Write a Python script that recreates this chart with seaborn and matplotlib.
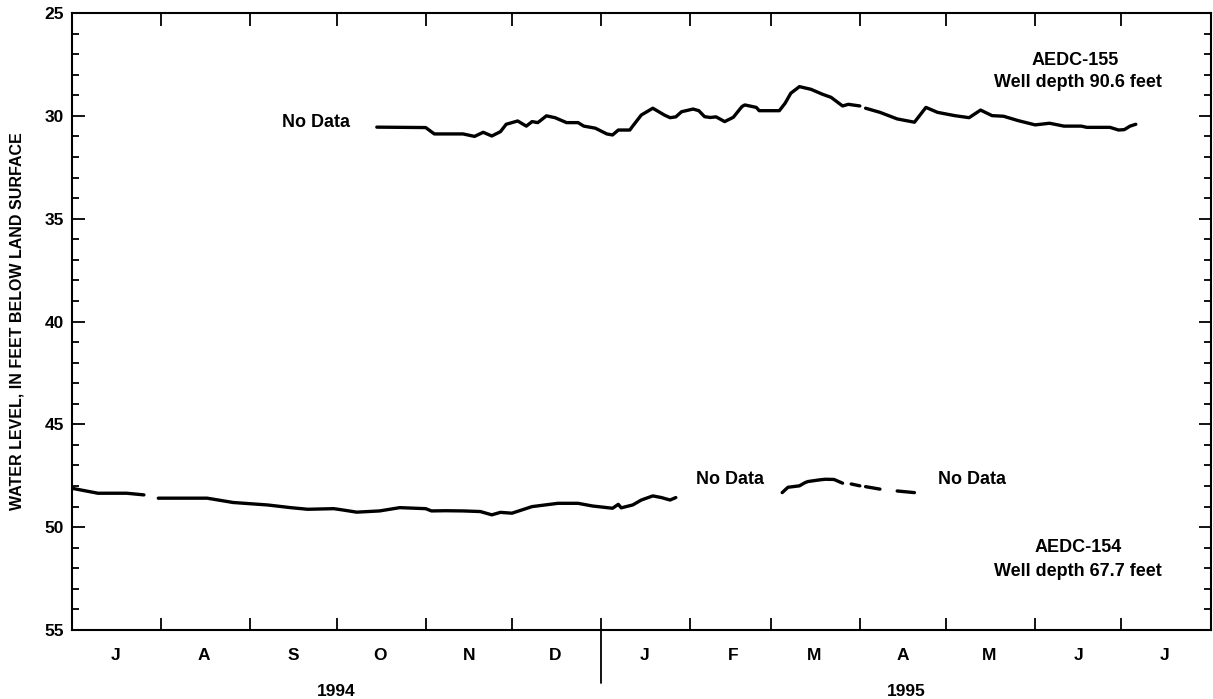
import numpy as np
import pandas as pd
import seaborn as sns
import matplotlib.pyplot as plt
import matplotlib.dates as mdates
import matplotlib.transforms as mtransforms
from matplotlib.ticker import MultipleLocator, FuncFormatter

START = pd.Timestamp('1994-07-01')
END = pd.Timestamp('1995-08-01')

# AEDC-155: days since 1 Jul 1994, water level in feet below land surface
aedc155_days_a = [106, 123, 126, 136, 140, 143, 146, 149, 151, 155, 158, 160, 162, 165, 168,
                  172, 176, 178, 182, 186, 188, 190, 194, 195, 198, 202, 206, 208, 210, 212,
                  216, 218, 220, 222, 224, 227, 230, 233, 234, 238, 239, 246, 248, 250, 253,
                  257, 261, 264, 268, 270, 274]
aedc155_level_a = [30.55, 30.57, 30.88, 30.88, 31.0, 30.8, 30.98, 30.77, 30.41, 30.25, 30.5, 30.28,
                   30.33, 30.0, 30.09, 30.33, 30.33, 30.5, 30.6, 30.88, 30.93, 30.69, 30.69, 30.5,
                   29.96, 29.63, 29.96, 30.09, 30.05, 29.8, 29.67, 29.75, 30.04, 30.08, 30.05,
                   30.28, 30.07, 29.55, 29.47, 29.59, 29.75, 29.75, 29.39, 28.9, 28.58, 28.71,
                   28.95, 29.1, 29.52, 29.44, 29.52]
aedc155_days_b = [276, 281, 287, 293, 297, 301, 307, 312, 316, 320, 324, 329, 335, 340, 345,
                  351, 353, 361, 364, 366, 368, 370]
aedc155_level_b = [29.63, 29.83, 30.15, 30.31, 29.59, 29.83, 29.99, 30.09, 29.72, 29.99, 30.02,
                   30.23, 30.44, 30.36, 30.5, 30.5, 30.56, 30.56, 30.69, 30.67, 30.5, 30.41]

# AEDC-154
aedc154_days_a = [0, 9, 19, 25]
aedc154_level_a = [48.11, 48.35, 48.35, 48.43]
aedc154_days_b = [30, 47, 56, 68, 76, 82, 91, 94, 99, 107, 114, 123, 125, 130, 136, 142, 146,
                  149, 153, 160, 169, 176, 181, 188, 190, 191, 195, 198, 202, 205, 208, 210]
aedc154_level_b = [48.59, 48.59, 48.8, 48.92, 49.05, 49.13, 49.1, 49.16, 49.27, 49.21, 49.05,
                   49.1, 49.21, 49.2, 49.21, 49.24, 49.4, 49.28, 49.32, 49.0, 48.84, 48.84,
                   48.97, 49.08, 48.89, 49.06, 48.92, 48.68, 48.48, 48.56, 48.68, 48.56]
aedc154_days_c = [247, 249, 253, 255, 256, 260, 262, 265, 268]
aedc154_level_c = [48.32, 48.06, 47.99, 47.83, 47.78, 47.7, 47.67, 47.68, 47.86]
aedc154_days_d = [271, 274]
aedc154_level_d = [47.9, 47.99]
aedc154_days_e = [276, 281]
aedc154_level_e = [48.03, 48.15]
aedc154_days_f = [287, 293]
aedc154_level_f = [48.24, 48.32]

segments = [
    (aedc155_days_a, aedc155_level_a),
    (aedc155_days_b, aedc155_level_b),
    (aedc154_days_a, aedc154_level_a),
    (aedc154_days_b, aedc154_level_b),
    (aedc154_days_c, aedc154_level_c),
    (aedc154_days_d, aedc154_level_d),
    (aedc154_days_e, aedc154_level_e),
    (aedc154_days_f, aedc154_level_f),
]

frames = []
for i, (days, levels) in enumerate(segments):
    frames.append(pd.DataFrame({
        'date': START + pd.to_timedelta(days, unit='D'),
        'level': levels,
        'seg': i,
    }))
df = pd.concat(frames, ignore_index=True)

sns.set_style('ticks')
plt.rcParams['font.family'] = ['Liberation Sans', 'DejaVu Sans']
plt.rcParams['text.color'] = 'black'
plt.rcParams['axes.labelcolor'] = 'black'
plt.rcParams['xtick.color'] = 'black'
plt.rcParams['ytick.color'] = 'black'

fig = plt.figure(figsize=(12.13, 6.99), dpi=100)
ax = fig.add_axes([0.0594, 0.0987, 0.9386, 0.8827])

sns.lineplot(data=df, x='date', y='level', units='seg', estimator=None, sort=False,
             color='black', lw=2.4, ax=ax, legend=False)

ax.set_xlim(START, END)
ax.set_ylim(55, 25)

# y axis
ax.yaxis.set_major_locator(MultipleLocator(5))
ax.yaxis.set_minor_locator(MultipleLocator(1))
ax.tick_params(axis='y', which='both', direction='in', left=True, right=True,
               width=1.3, labelsize=12.5, pad=6)
ax.tick_params(axis='y', which='major', length=9)
ax.tick_params(axis='y', which='minor', length=5)
for lab in ax.get_yticklabels():
    lab.set_fontweight('bold')

# x axis: month boundaries as ticks, month initials in between
ax.xaxis.set_major_locator(mdates.MonthLocator())
ax.xaxis.set_major_formatter(FuncFormatter(lambda x, pos: ''))
ax.xaxis.set_minor_locator(mdates.MonthLocator(bymonthday=16))
ax.xaxis.set_minor_formatter(FuncFormatter(lambda x, pos: mdates.num2date(x).strftime('%b')[0]))
ax.tick_params(axis='x', which='major', direction='in', top=True, bottom=True,
               length=9, width=1.3)
ax.tick_params(axis='x', which='minor', length=0, labelsize=12.5, pad=13)
for lab in ax.get_xticklabels(minor=True):
    lab.set_fontweight('bold')

for sp in ax.spines.values():
    sp.set_linewidth(1.5)
    sp.set_color('black')

ax.set_xlabel('')
ax.set_ylabel('WATER LEVEL, IN FEET BELOW LAND SURFACE', fontsize=11.5, fontweight='bold')
ax.yaxis.set_label_coords(-0.042, 0.5)

# year divider and year labels
trans = mtransforms.blended_transform_factory(ax.transData, ax.transAxes)
x_div = mdates.date2num(pd.Timestamp('1995-01-01'))
ax.plot([x_div, x_div], [0, -0.086], transform=trans, clip_on=False, color='black', lw=1.3)
ax.text(mdates.date2num(pd.Timestamp('1994-10-01')), -0.1, '1994', transform=trans,
        ha='center', va='center', fontsize=12.5, fontweight='bold')
ax.text(mdates.date2num(pd.Timestamp('1995-04-17')), -0.1, '1995', transform=trans,
        ha='center', va='center', fontsize=12.5, fontweight='bold')

# annotations
def note(day, level, s):
    ax.text(START + pd.Timedelta(days=day), level, s, ha='center', va='center',
            fontsize=13, fontweight='bold', color='black')

note(85, 30.3, 'No Data')
note(229, 47.7, 'No Data')
note(313, 47.7, 'No Data')
note(349, 27.3, 'AEDC-155')
note(350, 28.4, 'Well depth 90.6 feet')
note(350, 51.0, 'AEDC-154')
note(350, 52.15, 'Well depth 67.7 feet')

fig.savefig('out.png', dpi=100)
